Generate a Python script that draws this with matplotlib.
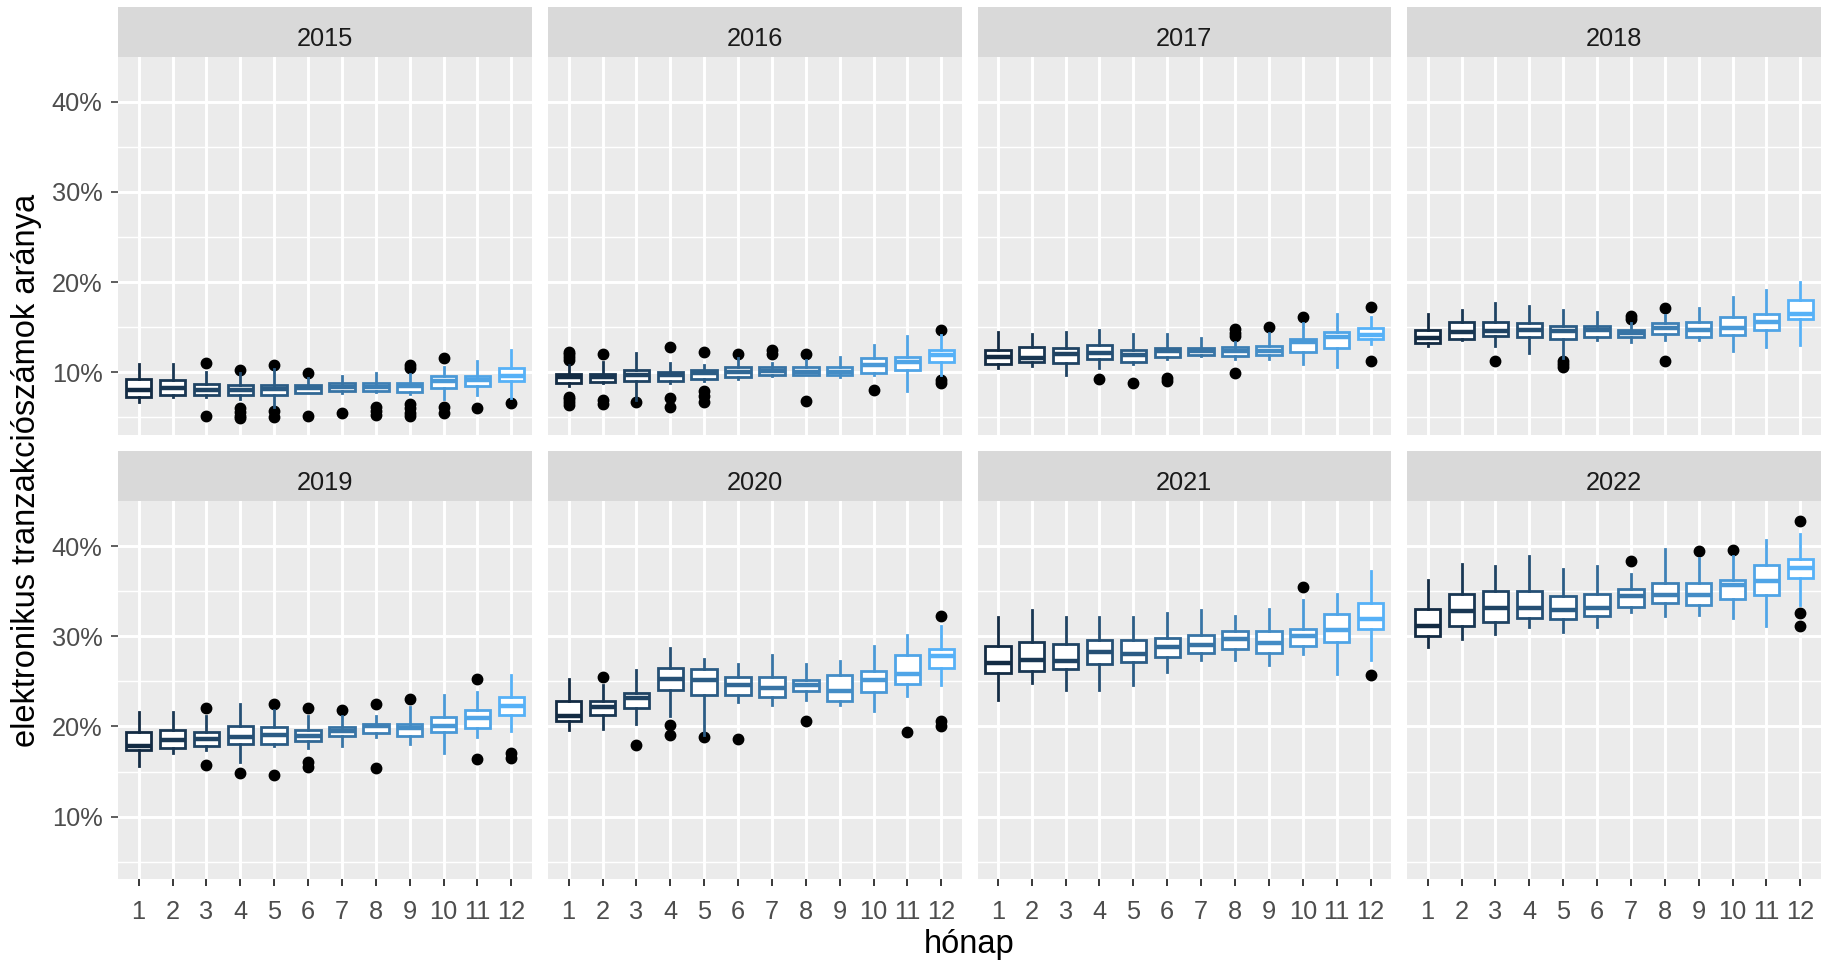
import matplotlib
matplotlib.use("Agg")
import matplotlib.pyplot as plt
from matplotlib.colors import LinearSegmentedColormap

plt.rcParams['font.family'] = ['Liberation Sans', 'DejaVu Sans']

years = [2015, 2016, 2017, 2018, 2019, 2020, 2021, 2022]
months = list(range(1, 13))

# box statistics per year (rows) and month (columns), in percent
whislo = [
    [6.75, 7.3, 7.3, 7.0, 6.1, 7.67, 7.74, 7.85, 7.6, 7.0, 7.49, 7.12],
    [8.52, 8.78, 6.93, 8.85, 9.07, 9.22, 9.59, 9.67, 9.44, 9.7, 7.97, 9.7],
    [10.44, 10.7, 9.7, 10.44, 10.92, 11.44, 11.81, 11.44, 11.44, 10.92, 10.62, 13.14],
    [12.92, 13.58, 12.92, 12.18, 11.55, 13.58, 13.4, 13.58, 13.58, 12.4, 12.77, 13.03],
    [15.66, 17.06, 17.36, 16.03, 17.8, 17.62, 17.8, 18.83, 18.1, 17.06, 18.83, 19.46],
    [19.57, 19.76, 20.31, 21.2, 19.1, 22.68, 22.42, 22.97, 22.42, 21.68, 23.42, 24.64],
    [22.9, 24.82, 24.08, 24.08, 24.64, 26.04, 27.34, 27.34, 26.85, 28.07, 25.86, 27.34],
    [28.77, 29.73, 30.25, 30.99, 30.47, 30.99, 32.69, 32.21, 32.39, 32.02, 31.17, 33.5],
]
q1 = [
    [7.3, 7.49, 7.49, 7.49, 7.49, 7.74, 7.97, 7.97, 7.85, 8.26, 8.52, 9.07],
    [8.78, 8.96, 9.07, 9.04, 9.26, 9.44, 9.7, 9.7, 9.7, 9.96, 10.26, 11.18],
    [10.92, 11.18, 11.07, 11.44, 11.18, 11.66, 11.92, 11.81, 11.92, 12.29, 12.73, 13.69],
    [13.21, 13.69, 14.02, 13.88, 13.65, 13.95, 13.88, 14.25, 13.88, 14.13, 14.69, 15.87],
    [17.36, 17.62, 17.8, 18.1, 18.1, 18.35, 18.91, 19.28, 18.91, 19.35, 19.83, 21.31],
    [20.57, 21.31, 22.05, 24.01, 23.53, 23.53, 23.23, 23.9, 22.79, 23.79, 24.75, 26.49],
    [25.93, 26.12, 26.37, 26.93, 27.11, 27.67, 28.15, 28.59, 28.15, 28.89, 29.33, 30.85],
    [29.99, 31.17, 31.54, 32.02, 31.95, 32.21, 33.24, 33.68, 33.43, 34.16, 34.61, 36.45],
]
med = [
    [8.0, 8.22, 8.04, 8.04, 8.11, 8.22, 8.4, 8.4, 8.52, 9.07, 9.15, 9.63],
    [9.44, 9.52, 9.7, 9.7, 9.89, 10.0, 10.18, 10.07, 10.07, 10.81, 11.11, 11.92],
    [11.7, 11.55, 12.03, 12.18, 11.92, 12.36, 12.36, 12.36, 12.4, 13.39, 13.95, 14.13],
    [13.77, 14.5, 14.62, 14.69, 14.58, 14.69, 14.32, 14.87, 14.69, 14.87, 15.61, 16.46],
    [17.87, 18.47, 18.61, 18.83, 19.09, 18.98, 19.46, 20.02, 19.83, 20.09, 20.94, 22.31],
    [21.13, 22.16, 23.16, 25.27, 25.12, 24.64, 24.27, 24.64, 23.9, 25.12, 25.86, 27.78],
    [27.04, 27.34, 27.3, 28.26, 28.07, 28.78, 29.07, 29.74, 29.26, 30.0, 30.73, 31.95],
    [31.1, 32.83, 33.13, 33.13, 32.95, 33.13, 34.42, 34.61, 34.61, 35.72, 36.09, 37.56],
]
q3 = [
    [9.3, 9.15, 8.67, 8.6, 8.6, 8.6, 8.85, 8.85, 8.85, 9.59, 9.59, 10.52],
    [9.81, 9.81, 10.26, 10.07, 10.26, 10.63, 10.63, 10.63, 10.55, 11.55, 11.73, 12.47],
    [12.47, 12.77, 12.66, 13.03, 12.47, 12.66, 12.73, 12.77, 12.95, 13.69, 14.43, 14.87],
    [14.69, 15.61, 15.61, 15.43, 15.13, 15.17, 14.69, 15.43, 15.61, 16.09, 16.43, 18.02],
    [19.35, 19.65, 19.39, 20.09, 19.91, 19.65, 19.91, 20.31, 20.31, 21.05, 21.86, 23.27],
    [22.79, 22.79, 23.71, 26.49, 26.37, 25.49, 25.49, 25.19, 25.67, 26.11, 27.89, 28.63],
    [28.89, 29.33, 29.15, 29.63, 29.55, 29.81, 30.11, 30.62, 30.62, 30.85, 32.47, 33.69],
    [33.06, 34.72, 34.98, 34.98, 34.5, 34.68, 35.24, 35.9, 35.9, 36.2, 37.86, 38.56],
]
whishi = [
    [10.89, 10.89, 10.07, 9.89, 10.33, 9.33, 9.6, 9.89, 9.78, 10.63, 11.29, 12.47],
    [10.81, 11.18, 12.1, 11.07, 10.81, 11.55, 11.07, 11.37, 11.73, 13.03, 14.03, 14.14],
    [14.5, 14.24, 14.5, 14.69, 14.24, 14.24, 13.76, 13.39, 14.32, 15.43, 16.42, 16.17],
    [16.43, 16.91, 17.65, 17.39, 16.91, 16.65, 15.43, 16.35, 17.09, 18.38, 19.12, 20.05],
    [21.57, 21.57, 21.13, 22.53, 21.86, 21.13, 21.13, 21.13, 22.16, 23.53, 23.79, 25.75],
    [25.27, 24.64, 26.23, 28.7, 27.48, 26.97, 27.96, 26.97, 27.22, 28.96, 30.18, 31.1],
    [32.1, 32.88, 32.1, 32.1, 32.1, 32.58, 32.88, 32.29, 33.06, 34.06, 34.73, 37.2],
    [36.27, 38.01, 37.75, 38.93, 37.49, 37.75, 36.94, 39.67, 38.67, 38.86, 40.63, 41.33],
]
outliers = [
    [[], [], [11.07, 5.19], [10.26, 6.0, 5.6, 5.2, 4.9], [10.81, 5.7, 5.1], [9.89, 5.16],
     [5.45], [6.1, 5.7, 5.3], [10.8, 10.5, 6.5, 6.0, 5.5, 5.2], [11.55, 6.2, 5.5], [6.08], [6.64]],
    [[12.3, 12.0, 11.7, 11.4, 7.3, 7.0, 6.7, 6.4], [12.0, 6.9, 6.5], [6.67], [12.77, 7.2, 6.2],
     [12.2, 7.9, 7.4, 6.7], [12.03], [12.5, 12.0], [12.03, 6.86], [], [8.04], [], [14.69, 9.2, 8.8]],
    [[], [], [], [9.22], [8.78], [9.4, 9.0], [], [14.8, 14.4, 14.0, 9.96], [14.98], [16.17], [],
     [17.27, 11.29]],
    [[], [], [11.29], [], [11.3, 10.9, 10.6], [], [16.2, 15.9], [17.17, 11.29], [], [], [], []],
    [[], [], [22.05, 15.77], [14.84], [22.53, 14.58], [22.05, 16.1, 15.5], [21.86], [22.53, 15.4],
     [23.05], [], [25.26, 16.4], [17.0, 16.5]],
    [[], [25.49], [17.99], [20.2, 19.1], [18.84], [18.65], [], [20.57], [], [], [19.39],
     [32.29, 20.6, 20.1]],
    [[], [], [], [], [], [], [], [], [], [35.47], [], [25.75]],
    [[], [], [], [], [], [], [38.38], [], [39.41], [39.6], [], [42.74, 32.58, 31.1]],
]

W, H = 1821, 961
fig = plt.figure(figsize=(W / 100, H / 100), dpi=100)

cmap = LinearSegmentedColormap.from_list("gg", ["#132B43", "#56B1F7"])

col_left = [118.3, 548.3, 977.5, 1407.3]
row_top = [56.7, 501.0]
panel_w, panel_h, strip_h = 413.4, 378.3, 50.0
small = 18.3

for i, yr in enumerate(years):
    r, c = divmod(i, 4)
    x0 = col_left[c] / W
    y0 = 1 - (row_top[r] + panel_h) / H
    ax = fig.add_axes([x0, y0, panel_w / W, panel_h / H])
    sax = fig.add_axes([x0, 1 - row_top[r] / H, panel_w / W, strip_h / H])

    # strip
    sax.set_facecolor("#D9D9D9")
    sax.set_xticks([])
    sax.set_yticks([])
    for s in sax.spines.values():
        s.set_visible(False)
    sax.text(0.5, 0.22, str(yr), ha="center", va="baseline", fontsize=small,
             color="#1A1A1A", transform=sax.transAxes)

    # panel
    ax.set_facecolor("#EBEBEB")
    for s in ax.spines.values():
        s.set_visible(False)
    ax.set_xlim(0.4, 12.6)
    ax.set_ylim(3.05, 44.99)
    ax.set_xticks(months)
    ax.set_xticklabels([str(m) for m in months])
    ax.set_yticks([10, 20, 30, 40])
    ax.set_yticklabels(["10%", "20%", "30%", "40%"])
    ax.set_yticks([5, 15, 25, 35], minor=True)
    ax.grid(True, which="major", color="white", linewidth=2.1)
    ax.grid(True, which="minor", axis="y", color="white", linewidth=1.05)
    ax.set_axisbelow(True)
    ax.tick_params(which="minor", left=False)
    ax.tick_params(which="major", length=5.3, width=1.1, color="#333333",
                   labelsize=small, labelcolor="#4D4D4D")
    ax.tick_params(axis="y", pad=6.0)
    ax.tick_params(axis="x", pad=9.5)
    if c != 0:
        ax.tick_params(left=False, labelleft=False)
    if r == 0:
        ax.tick_params(bottom=False, labelbottom=False)

    stats = []
    for k in range(12):
        stats.append(dict(med=med[i][k], q1=q1[i][k], q3=q3[i][k],
                          whislo=whislo[i][k], whishi=whishi[i][k],
                          fliers=outliers[i][k]))
    res = ax.bxp(stats, positions=months, widths=0.75, patch_artist=True,
                 showcaps=False,
                 boxprops=dict(facecolor="white", linewidth=2.0),
                 whiskerprops=dict(linewidth=2.0),
                 medianprops=dict(linewidth=3.2),
                 flierprops=dict(marker="o", markerfacecolor="black",
                                 markeredgecolor="black", markersize=7.5))
    for k in range(12):
        col = cmap(k / 11)
        res["boxes"][k].set_edgecolor(col)
        res["medians"][k].set_color(col)
        res["whiskers"][2 * k].set_color(col)
        res["whiskers"][2 * k + 1].set_color(col)
        res["fliers"][k].set_zorder(1.5)

fig.text(27 / W, 1 - 470 / H, "elektronikus tranzakciószámok aránya", rotation=90,
         ha="center", va="center", fontsize=23.5, color="black")
fig.text(969.5 / W, 1 - 945 / H, "hónap", ha="center", va="center",
         fontsize=23.5, color="black")

fig.savefig("out.png", dpi=100, facecolor="white")
